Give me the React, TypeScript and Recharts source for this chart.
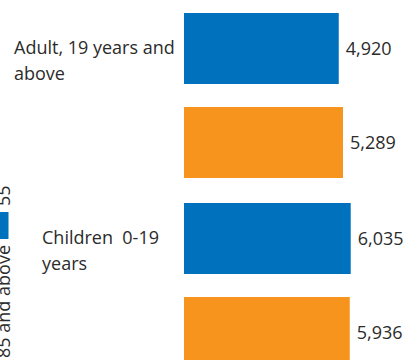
import { BarChart, Bar, XAxis, YAxis, LabelList } from 'recharts';

// Categories (each label split into the two lines shown in the picture)
const categories: string[] = ['Adult, 19 years and above', 'Children  0-19 years'];
const categoryLines: string[][] = [
  ['Adult, 19 years and', 'above'],
  ['Children  0-19', 'years'],
];

// Series values
const blueValues: number[] = [4920, 6035];
const orangeValues: number[] = [5289, 5936];

const data = categories.map((name, i) => ({
  name,
  blue: blueValues[i],
  orange: orangeValues[i],
}));

const FONT = '"Open Sans", "Noto Sans", sans-serif';
const TEXT = '#2b2b2b';
const BLUE = '#0071bc';
const ORANGE = '#f7941e';

// left indent of each category label block
const labelIndent = [14, 42];

const CategoryTick = (props: any) => {
  const { y, index } = props;
  const lines = categoryLines[index] || [];
  return (
    <text
      x={labelIndent[index]}
      y={y - 41}
      fill={TEXT}
      fontSize={18}
      fontFamily={FONT}
      textAnchor="start"
      style={{ whiteSpace: 'pre' }}
    >
      {lines.map((line, i) => (
        <tspan key={i} x={labelIndent[index]} dy={i === 0 ? 0 : 26}>
          {line}
        </tspan>
      ))}
    </text>
  );
};

const formatValue = (v: any) => Number(v).toLocaleString('en-US');

export default function App() {
  return (
    <div style={{ position: 'absolute', left: 0, top: 0, width: 408, height: 360, overflow: 'hidden', background: '#fff' }}>
      <BarChart
        width={408}
        height={380}
        data={data}
        layout="vertical"
        margin={{ top: 0, right: 8, bottom: 0, left: 0 }}
        barSize={71}
        barGap={23}
      >
        <XAxis type="number" scale="log" domain={[350, 14000]} allowDataOverflow hide />
        <YAxis
          type="category"
          dataKey="name"
          width={184}
          axisLine={false}
          tickLine={false}
          tick={<CategoryTick />}
          interval={0}
        />
        <Bar dataKey="blue" fill={BLUE} isAnimationActive={false}>
          <LabelList dataKey="blue" position="right" offset={7} formatter={formatValue} fill={TEXT} fontSize={18} fontFamily={FONT} />
        </Bar>
        <Bar dataKey="orange" fill={ORANGE} isAnimationActive={false}>
          <LabelList dataKey="orange" position="right" offset={7} formatter={formatValue} fill={TEXT} fontSize={18} fontFamily={FONT} />
        </Bar>
      </BarChart>
      {/* rotated legend fragment at the left edge */}
      <svg width={30} height={360} style={{ position: 'absolute', left: 0, top: 0 }}>
        <rect x={-19} y={212} width={27.5} height={27} fill={BLUE} />
        <text transform="translate(9.5,245) rotate(-90)" textAnchor="end" fontSize={18} fontFamily={FONT} fill={TEXT}>
          85 and above
        </text>
        <text transform="translate(9.5,206) rotate(-90)" textAnchor="start" fontSize={18} fontFamily={FONT} fill={TEXT}>
          55
        </text>
      </svg>
    </div>
  );
}
